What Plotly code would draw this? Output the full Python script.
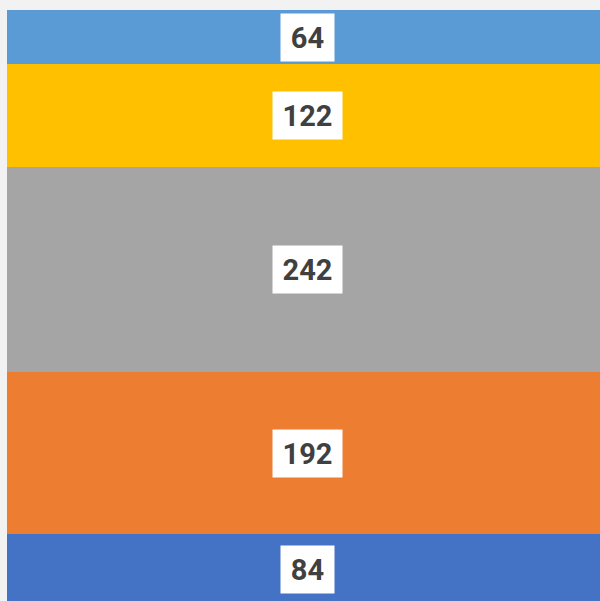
import plotly.graph_objects as go

categories = ["A"]
series_names = ["S1", "S2", "S3", "S4", "S5"]
series_values = [84, 192, 242, 122, 64]
colors = ["#4472C4", "#ED7D31", "#A5A5A5", "#FFC000", "#5B9BD5"]

fig = go.Figure()
base = 0
annotations = []
for name, v, c in zip(series_names, series_values, colors):
    fig.add_trace(go.Bar(x=categories, y=[v], name=name, marker=dict(color=c, line=dict(width=0)),
                         hoverinfo="skip"))
    label = str(v)
    annotations.append(dict(x=categories[0], y=base + v / 2, xref="x", yref="y", text="<b>" + label + "</b>",
                            showarrow=False, bgcolor="white", borderpad=6,
                            width=41 if len(label) == 2 else 57, height=35, xshift=4,
                            font=dict(family="Roboto, sans-serif", size=29, color="#404040"),
                            ))
    base += v

fig.update_layout(
    barmode="stack", bargap=0, width=600, height=601,
    margin=dict(l=7, r=0, t=10, b=0),
    paper_bgcolor="#F2F2F2", plot_bgcolor="#F2F2F2",
    showlegend=False,
    xaxis=dict(visible=False),
    yaxis=dict(visible=False, range=[5, 704]),
    annotations=annotations,
)
fig.write_html("out.html", config={"displayModeBar": False},
               post_script="document.body.style.margin='0';document.body.style.overflow='hidden';")
